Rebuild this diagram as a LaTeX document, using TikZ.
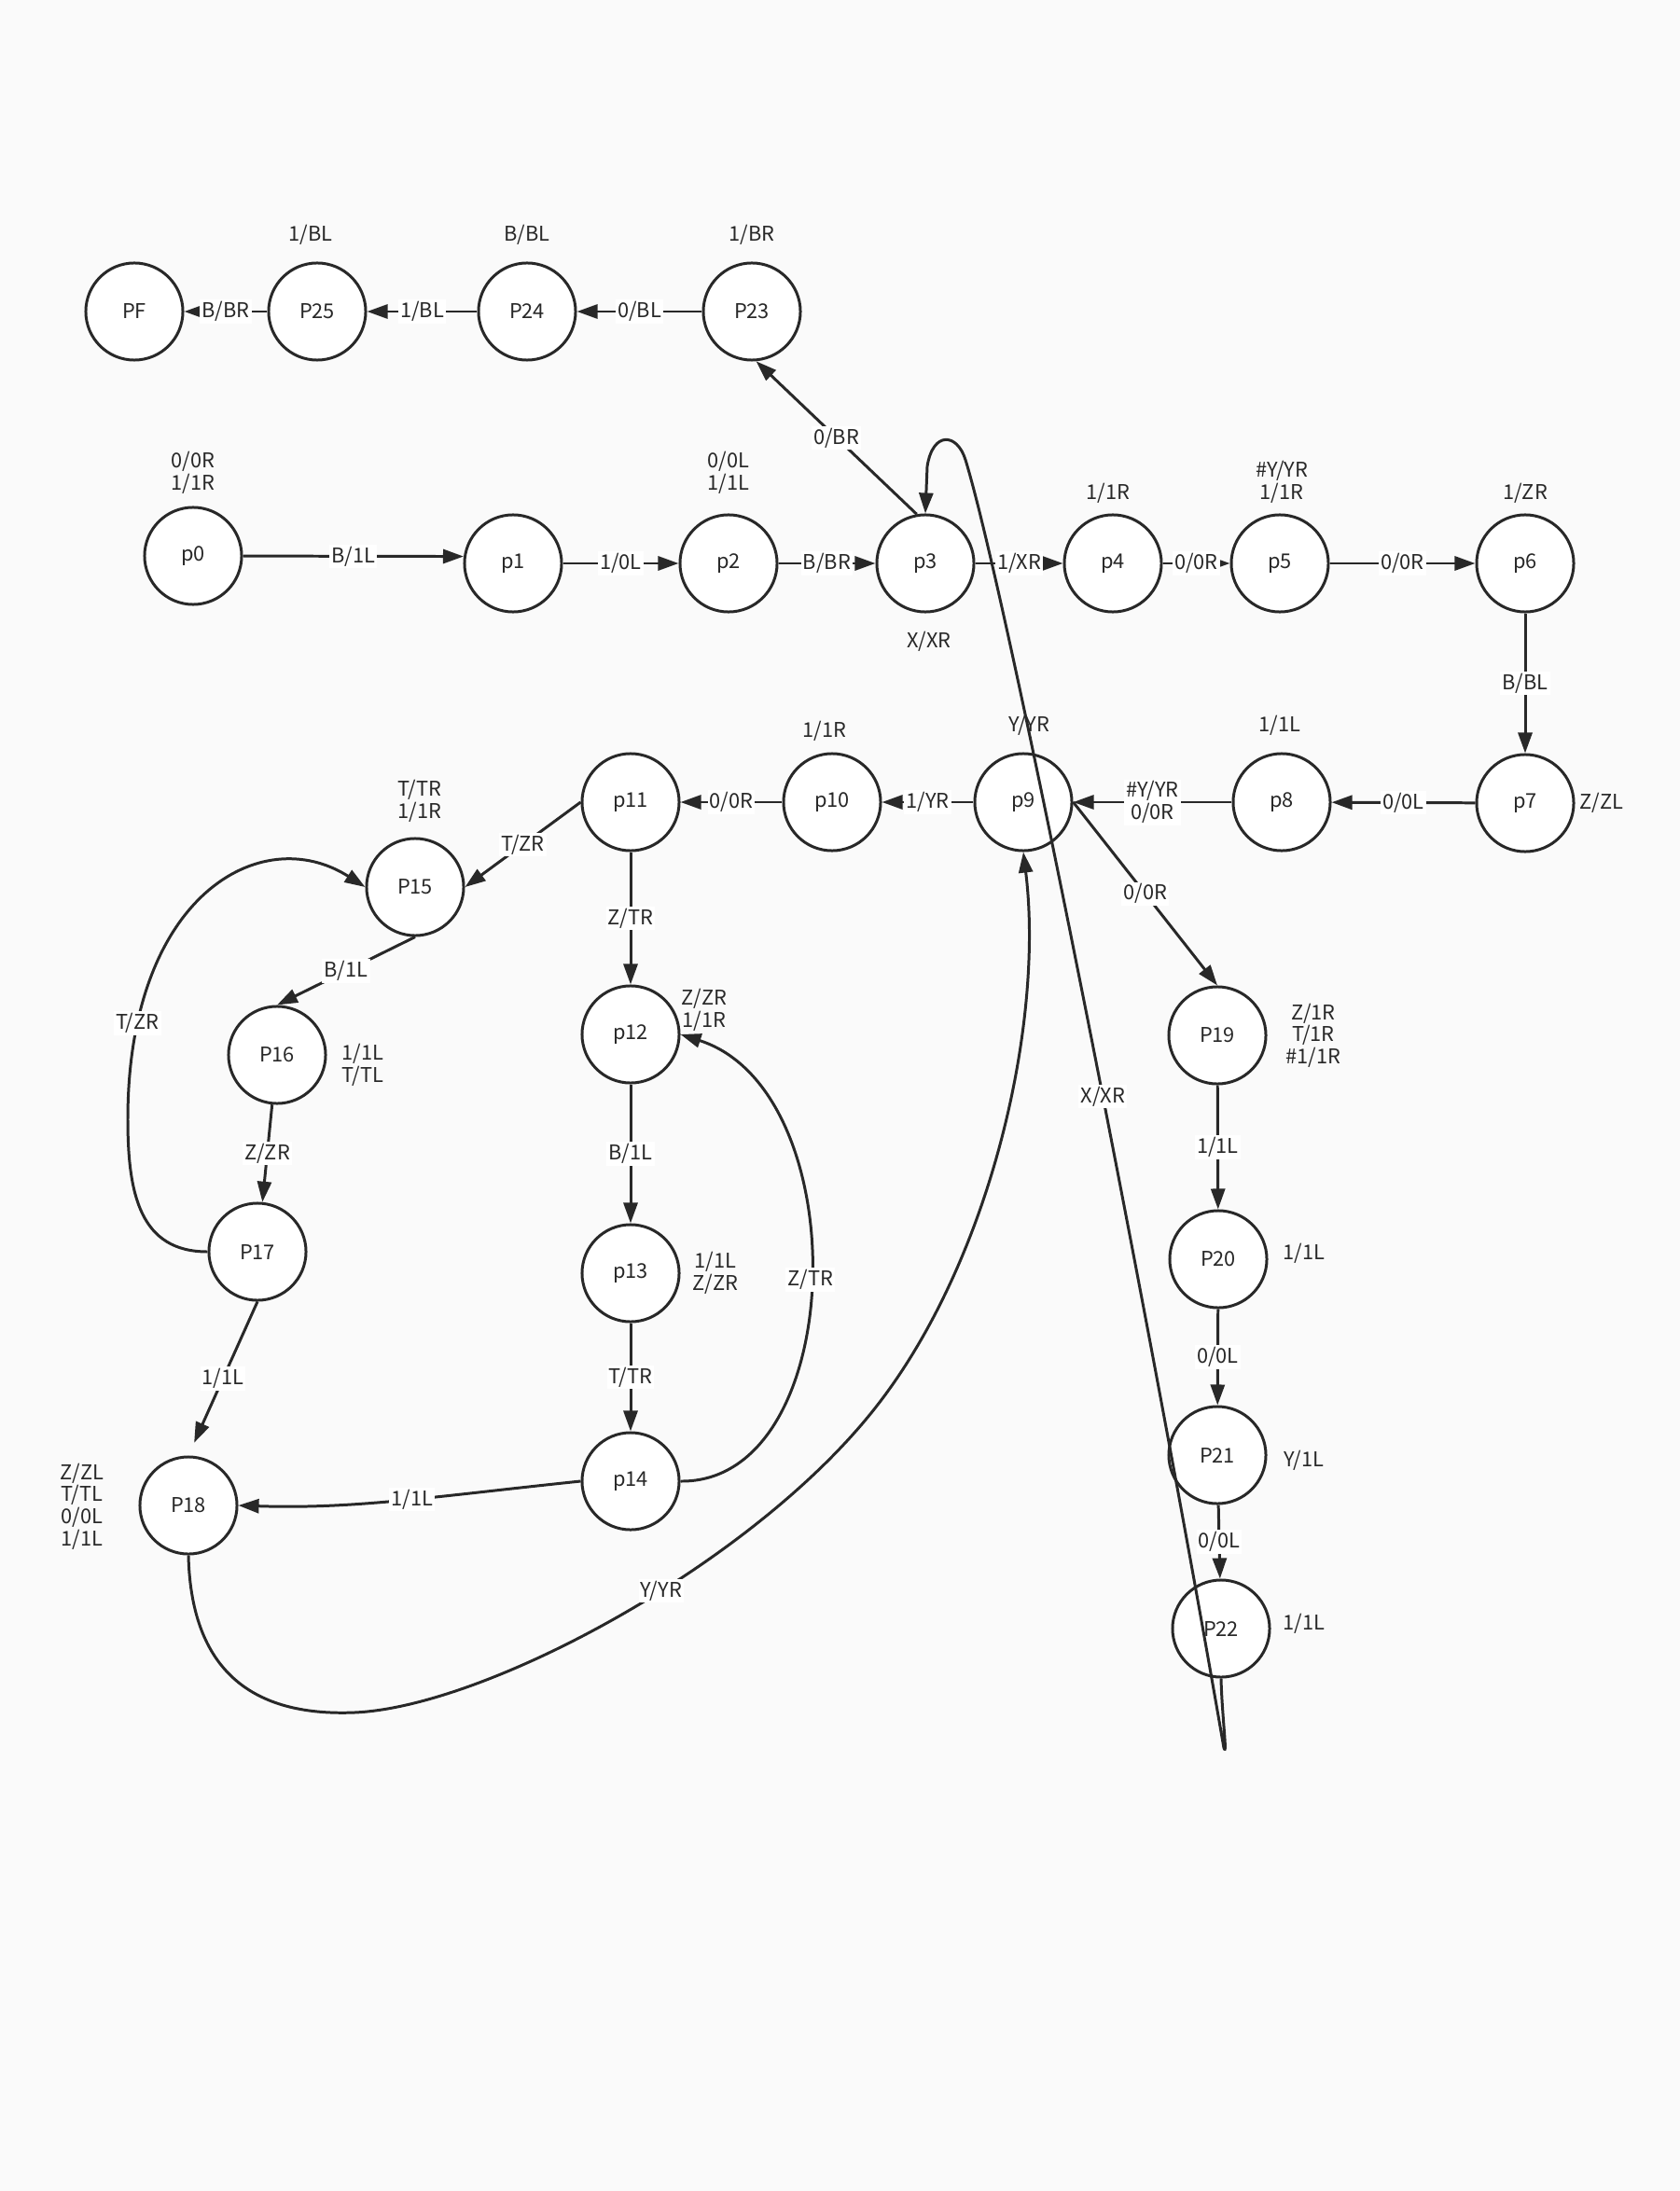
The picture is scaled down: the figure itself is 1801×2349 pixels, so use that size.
\documentclass[tikz,border=0pt]{standalone}
\usepackage{fontspec}
\setmainfont{Noto Sans CJK SC}
\usetikzlibrary{arrows.meta}
\definecolor{bgc}{RGB}{250,250,250}
\definecolor{ink}{RGB}{40,40,40}
\begin{document}
\begin{tikzpicture}[x=0.01cm,y=-0.01cm,
  state/.style={circle,draw=ink,fill=white,line width=0.85pt,minimum size=1.04cm,inner sep=0pt,font=\fontsize{6.2}{7}\selectfont,text=ink},
  edge/.style={draw=ink,line width=0.85pt,-{Triangle[length=0.22cm,width=0.15cm]}},
  elab/.style={fill=white,inner sep=0.6pt,font=\fontsize{6.2}{6.7}\selectfont,text=ink},
  note/.style={align=center,inner sep=0pt,font=\fontsize{6.2}{6.7}\selectfont,text=ink}]
\fill[bgc] (0,0) rectangle (1801,2349);
\useasboundingbox (0,0) rectangle (1801,2349);

% states
\node[state] (PF)  at (144,334) {PF};
\node[state] (P25) at (340,334) {P25};
\node[state] (P24) at (565,334) {P24};
\node[state] (P23) at (806,334) {P23};
\node[state] (p0)  at (207,596) {p0};
\node[state] (p1)  at (550,604) {p1};
\node[state] (p2)  at (781,604) {p2};
\node[state] (p3)  at (992,604) {p3};
\node[state] (p4)  at (1193,604) {p4};
\node[state] (p5)  at (1372,604) {p5};
\node[state] (p6)  at (1635,604) {p6};
\node[state] (p7)  at (1635,861) {p7};
\node[state] (p8)  at (1374,860) {p8};
\node[state] (p9)  at (1097,860) {p9};
\node[state] (p10) at (892,860) {p10};
\node[state] (p11) at (676,860) {p11};
\node[state] (P15) at (445,951) {P15};
\node[state] (P16) at (297,1131) {P16};
\node[state] (P17) at (276,1342) {P17};
\node[state] (P18) at (202,1614) {P18};
\node[state] (p12) at (676,1109) {p12};
\node[state] (p13) at (676,1365) {p13};
\node[state] (p14) at (676,1588) {p14};
\node[state] (P19) at (1305,1110) {P19};
\node[state] (P20) at (1306,1350) {P20};
\node[state] (P21) at (1305,1560) {P21};
\node[state] (P22) at (1309,1746) {P22};

% free notes
\node[note] (n25) at (333,252) {1/BL};
\node[note] (n24) at (565,252) {B/BL};
\node[note] (n23) at (806,252) {1/BR};
\node[note] (n0)  at (207,507) {0/0R\\1/1R};
\node[note] (n2)  at (781,507) {0/0L\\1/1L};
\node[note] (n4)  at (1188,529) {1/1R};
\node[note] (n5)  at (1374,517) {\#Y/YR\\1/1R};
\node[note] (n6)  at (1635,529) {1/ZR};
\node[note] (n3)  at (996,688) {X/XR};
\node[note] (n7)  at (1717,861) {Z/ZL};
\node[note] (n8)  at (1372,778) {1/1L};
\node[note] (n9)  at (1103,778) {Y/YR};
\node[note] (n10) at (884,784) {1/1R};
\node[note] (n15) at (450,859) {T/TR\\1/1R};
\node[note] (n16) at (389,1142) {1/1L\\T/TL};
\node[note] (n12) at (755,1083) {Z/ZR\\1/1R};
\node[note] (n13) at (767,1365) {1/1L\\Z/ZR};
\node[note] (n18) at (88,1615) {Z/ZL\\T/TL\\0/0L\\1/1L};
\node[note] (n19) at (1408,1110) {Z/1R\\T/1R\\\#1/1R};
\node[note] (n20) at (1398,1344) {1/1L};
\node[note] (n21) at (1398,1566) {Y/1L};
\node[note] (n22) at (1398,1741) {1/1L};

% edges
\draw[edge] (P23) -- node[elab]{0/BL} (P24);
\draw[edge] (P24) -- node[elab]{1/BL} (P25);
\draw[edge] (P25) -- node[elab]{B/BR} (PF);
\draw[edge] (p3.100) -- node[elab]{0/BR} (P23.-85);
\draw[edge] (p0) -- node[elab]{B/1L} (p1.172);
\draw[edge] (p1) -- node[elab]{1/0L} (p2);
\draw[edge] (p2) -- node[elab]{B/BR} (p3);
\draw[edge] (p3) -- node[elab]{1/XR} (p4);
\draw[edge] (p4) -- node[elab]{0/0R} (p5);
\draw[edge] (p5) -- node[elab]{0/0R} (p6);
\draw[edge] (p6) -- node[elab]{B/BL} (p7);
\draw[edge] (p7) -- node[elab]{0/0L} (p8);
\draw[edge] (p8) -- node[elab,align=center]{\#Y/YR\\0/0R} (p9);
\draw[edge] (p9) -- node[elab]{1/YR} (p10);
\draw[edge] (p10) -- node[elab]{0/0R} (p11);
\draw[edge] (p11.west) -- node[elab]{T/ZR} (P15.east);
\draw[edge] (P15.south) -- node[elab]{B/1L} (P16.north);
\draw[edge] (P16) -- node[elab]{Z/ZR} (P17);
\draw[edge] (P17.west) .. controls (150,1342) and (137,1280) .. (137,1200)
  .. controls (137,960) and (280,880) .. node[elab,pos=0.16]{T/ZR} (P15.west);
\draw[edge,shorten >=0.15cm] (P17.south) -- node[elab]{1/1L} (P18.north);
\draw[edge] (p11) -- node[elab]{Z/TR} (p12);
\draw[edge] (p12) -- node[elab]{B/1L} (p13);
\draw[edge] (p13) -- node[elab]{T/TR} (p14);
\draw[edge] (p14.east) .. controls (910,1590) and (920,1170) .. node[elab]{Z/TR} (p12.east);
\draw[edge] (p14.west) .. controls (460,1605) and (380,1618) .. node[elab,pos=0.45]{1/1L} (P18.east);
\draw[edge] (P18.south) .. controls (205,1800) and (280,1840) .. (380,1836)
  .. controls (520,1830) and (800,1680) .. node[elab,pos=0.58]{Y/YR} (933,1516)
  .. controls (1060,1360) and (1120,1100) .. (p9.south);
\draw[edge] (p9.east) -- node[elab]{0/0R} (P19.north);
\draw[edge] (P19) -- node[elab]{1/1L} (P20);
\draw[edge] (P20) -- node[elab]{0/0L} (P21);
\draw[edge] (P21) -- node[elab]{0/0L} (P22);
\draw[edge] (P22.south) .. controls (1310,1840) and (1316,1884) .. (1312,1874)
  .. controls (1230,1400) and (1080,640) .. node[elab,pos=0.43]{X/XR} (1035,493)
  .. controls (1026,464) and (1000,462) .. (994,500) -- (p3.north);
\end{tikzpicture}
\end{document}
